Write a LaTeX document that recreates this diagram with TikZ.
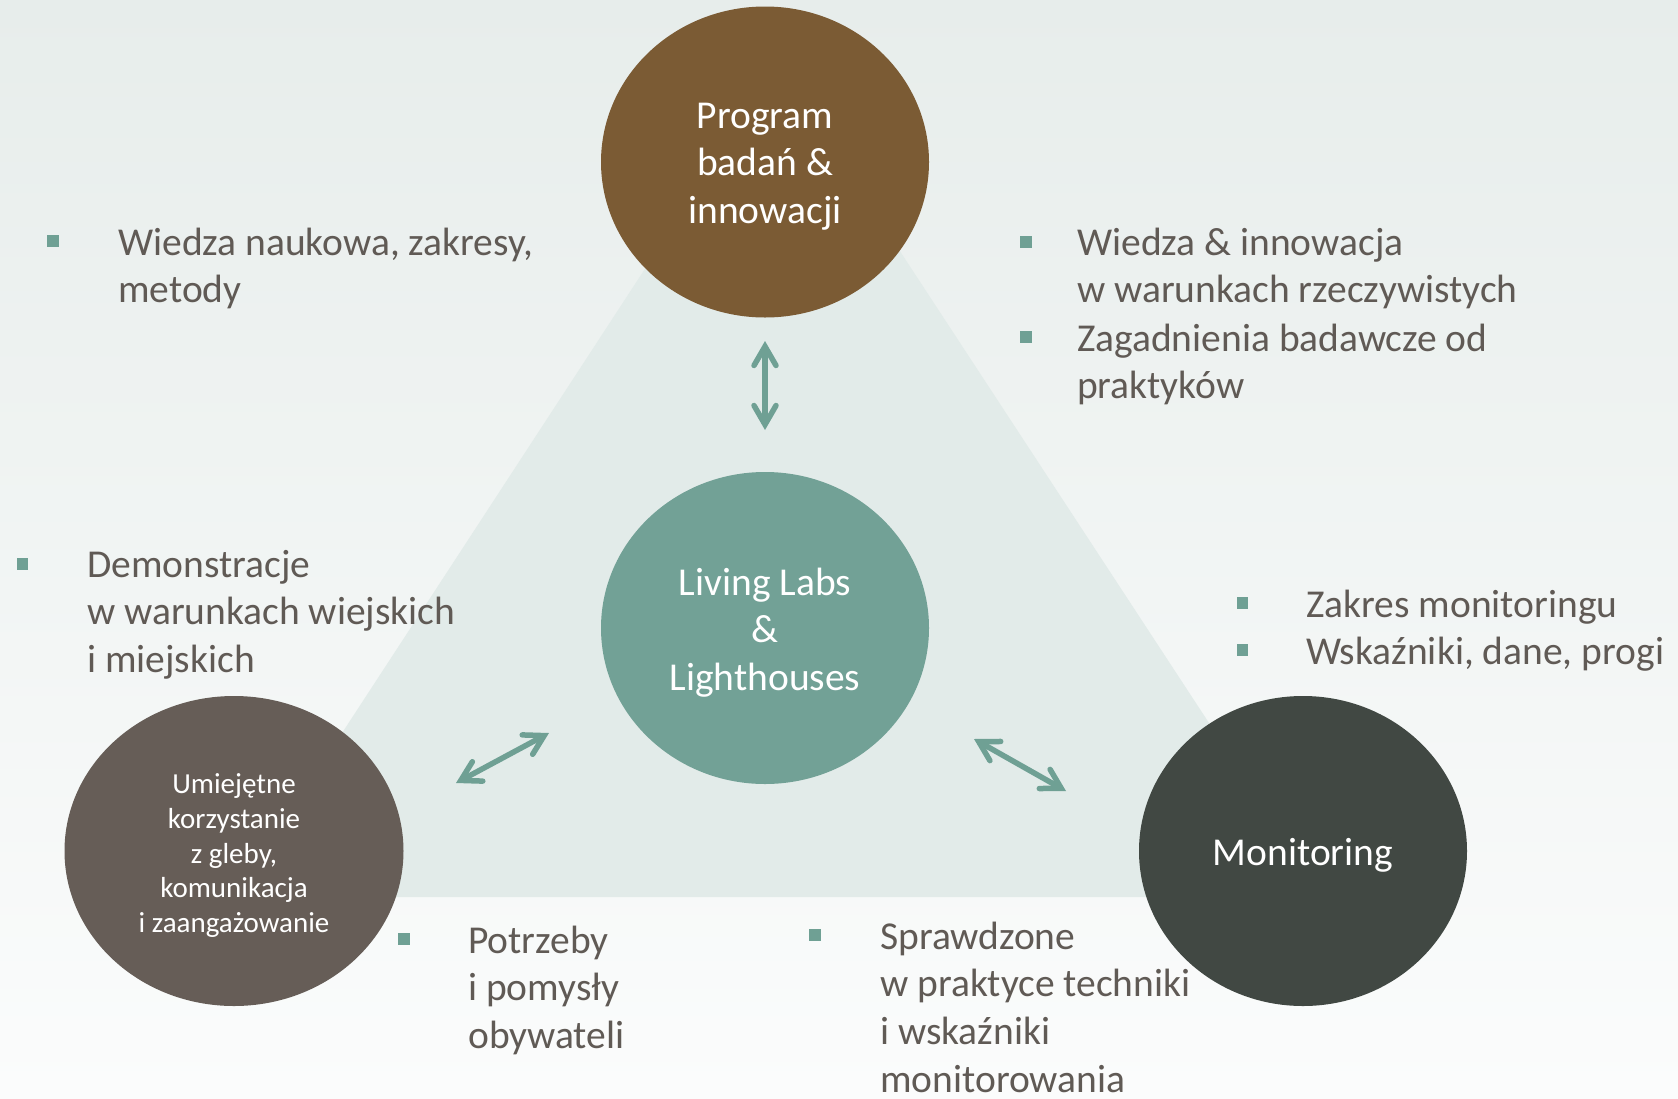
\documentclass[tikz,border=0pt]{standalone}
\usepackage{fontspec}
\setmainfont{Carlito}
\usetikzlibrary{shapes.geometric,arrows.meta}
\definecolor{bgtop}{RGB}{231,237,235}
\definecolor{bgbot}{RGB}{251,252,252}
\definecolor{tri}{RGB}{226,235,233}
\definecolor{brownc}{RGB}{123,91,52}
\definecolor{tealc}{RGB}{114,161,150}
\definecolor{greyc}{RGB}{102,93,87}
\definecolor{darkc}{RGB}{65,72,67}
\definecolor{txt}{RGB}{96,90,85}
\definecolor{bul}{RGB}{111,160,148}
\begin{document}
\begin{tikzpicture}[x=1pt,y=-1pt,
  circ/.style={ellipse, inner sep=0pt},
  ctext/.style={inner sep=0pt, text=white, align=center, yshift=-4.6pt,
    font=\fontsize{39.5}{47.7}\selectfont},
  smallctext/.style={ctext, font=\fontsize{29}{34.8}\selectfont},
  bigtxt/.style={inner sep=0pt, anchor=base west, align=left, text=txt,
    font=\fontsize{39.5}{47.7}\selectfont},
  bulletsq/.style={fill=bul, minimum size=11.5pt, inner sep=0pt},
  arr/.style={draw=bul, line width=5.5pt, line cap=round,
    {Straight Barb[length=19pt,width=22pt,line cap=round]}-{Straight Barb[length=19pt,width=22pt,line cap=round]}}]
\useasboundingbox (0,0) rectangle (1678,1098);
\shade[top color=bgtop, bottom color=bgbot] (0,0) rectangle (1678,1098);
% triangle
\coordinate (tA) at (778,65);
\coordinate (tB) at (235,897);
\coordinate (tC) at (1323,897);
\fill[tri] (tA) -- (tB) -- (tC) -- cycle;
% circles
\node[circ, fill=brownc, minimum width=328pt, minimum height=311pt,
  label={[ctext]center:{Program\\badań \&\\innowacji}}] (prog) at (765,162) {};
\node[circ, fill=tealc, minimum width=328pt, minimum height=312pt,
  label={[ctext]center:{Living Labs\\\&\\Lighthouses}}] (ll) at (765,628) {};
\node[circ, fill=greyc, minimum width=339pt, minimum height=310pt,
  label={[smallctext]center:{Umiejętne\\korzystanie\\z gleby,\\komunikacja\\i zaangażowanie}}] (umi) at (234,851) {};
\node[circ, fill=darkc, minimum width=328pt, minimum height=310pt,
  label={[ctext]center:{Monitoring}}] (mon) at (1303,851) {};
% arrows
\coordinate (a1s) at (765,341);
\coordinate (a1e) at (765,430);
\coordinate (a2s) at (456,783);
\coordinate (a2e) at (549,733);
\coordinate (a3s) at (974,739);
\coordinate (a3e) at (1066,791);
\draw[arr] (a1s) -- (a1e);
\draw[arr] (a2s) -- (a2e);
\draw[arr] (a3s) -- (a3e);
% bullets
\node[bulletsq] (b1) at (53,241) {};
\node[bulletsq] (b2) at (1026,242) {};
\node[bulletsq] (b3) at (1026,337) {};
\node[bulletsq] (b4) at (22.5,564) {};
\node[bulletsq] (b5) at (1242.5,603) {};
\node[bulletsq] (b6) at (1242.5,650) {};
\node[bulletsq] (b7) at (404,939) {};
\node[bulletsq] (b8) at (815,935) {};
% texts (anchored at the baseline of the last line)
\node[bigtxt] (t1) at (118,302.7) {Wiedza naukowa, zakresy,\\metody};
\node[bigtxt] (t2) at (1077,302.7) {Wiedza \& innowacja\\w warunkach rzeczywistych};
\node[bigtxt] (t3) at (1077,398.7) {Zagadnienia badawcze od\\praktyków};
\node[bigtxt] (t4) at (87,672.4) {Demonstracje\\w warunkach wiejskich\\i miejskich};
\node[bigtxt] (t5) at (1306,617) {Zakres monitoringu};
\node[bigtxt] (t6) at (1306,664) {Wskaźniki, dane, progi};
\node[bigtxt] (t7) at (468,1048.4) {Potrzeby\\i pomysły\\obywateli};
\node[bigtxt] (t8) at (880,1092.1) {Sprawdzone\\w praktyce techniki\\i wskaźniki\\monitorowania};
\end{tikzpicture}
\end{document}
